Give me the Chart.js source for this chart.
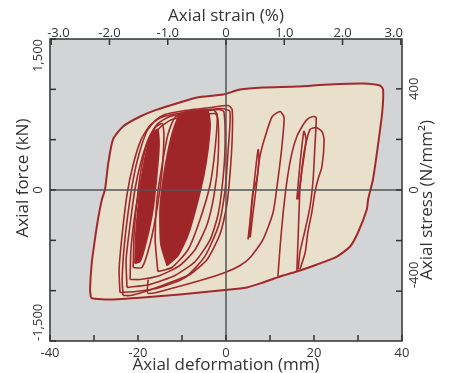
<!DOCTYPE html>
<html>
<head>
<meta charset="utf-8">
<script src="https://cdn.jsdelivr.net/npm/chart.js@4.4.0/dist/chart.umd.min.js"></script>
<style>
  html, body { margin: 0; padding: 0; background: #fff; }
  #wrap { width: 475px; height: 373px; }
</style>
</head>
<body>
<div id="wrap"><canvas id="chart" width="475" height="373"></canvas></div>
<script>
// axial deformation (mm) vs axial force (kN)
const envelope = [[-30.7,-1068],[-30.9,-988],[-30.5,-720],[-29.8,-492],[-29.1,-293],[-28.2,-94],[-27.5,5],[-26.8,253],[-25.7,501],[-23.4,631],[-19.5,730],[-15.7,798],[-10.5,869],[-6.6,919],[-0.7,948],[3.2,998],[8.4,1018],[16.1,1028],[23.6,1048],[31.1,1058],[35.0,1038],[35.7,998],[35.5,770],[34.5,432],[33.4,104],[32.3,-94],[32.0,-194],[30.0,-422],[28.2,-561],[25.2,-661],[20.7,-740],[16.1,-810],[12.3,-859],[8.4,-919],[4.8,-968],[0.9,-988],[-10.5,-1038],[-18.9,-1068],[-26.4,-1088],[-30.2,-1078],[-30.7,-1068]];

const loopL1 = [[-23.4,-1048],[-23.6,-889],[-23.2,-591],[-22.3,-243],[-21.1,104],[-19.8,353],[-18.0,581],[-16.1,690],[-13.9,750],[-9.3,789],[-3.6,819],[0.5,839],[1.4,798],[1.4,501],[0.9,154],[0.2,-144],[-1.4,-442],[-4.3,-690],[-8.2,-839],[-13.9,-938],[-18.4,-1008],[-21.8,-1048],[-23.4,-1048]];
const loopL2 = [[-22.5,-968],[-22.7,-690],[-21.8,-342],[-20.7,5],[-19.3,283],[-17.5,521],[-15.5,660],[-12.7,730],[-7.0,770],[-1.8,799],[-0.5,780],[-0.2,452],[-0.7,104],[-1.8,-243],[-3.6,-492],[-7.0,-710],[-11.6,-849],[-17.3,-938],[-22.5,-968]];
const loopL3 = [[-21.8,-889],[-21.6,-591],[-20.7,-243],[-19.5,55],[-18.2,303],[-16.8,501],[-15.0,621],[-12.3,700],[-5.9,740],[-2.5,760],[-1.8,700],[-1.8,303],[-2.7,-45],[-4.3,-342],[-7.0,-591],[-10.5,-750],[-15.0,-849],[-19.5,-889],[-21.8,-889]];
const loopL4 = [[-15.5,-810],[-16.1,-492],[-15.7,-94],[-14.5,253],[-13.2,551],[-11.6,720],[-8.2,780],[-3.0,799],[-2.0,750],[-2.5,402],[-3.6,55],[-5.9,-293],[-8.6,-591],[-12.3,-770],[-15.5,-810]];
const loopL5 = [[-21.1,-770],[-20.9,-442],[-20.2,-94],[-19.3,204],[-18.0,452],[-16.1,621],[-14.5,660],[-14.1,551],[-14.5,204],[-15.7,-194],[-17.3,-541],[-19.1,-770],[-21.1,-770]];
const loopL6 = [[-24.1,-1018],[-24.3,-790],[-23.6,-442],[-22.5,-45],[-21.1,253],[-19.3,501],[-17.3,640],[-14.8,720],[-10.9,760],[-5.0,790],[-0.9,810],[0.9,780],[0.5,402],[-0.2,5],[-1.6,-342],[-4.8,-660],[-9.3,-870],[-15.0,-968],[-20.5,-1008],[-24.1,-1018]];
const denseA = [[-20.7,-730],[-20.5,-442],[-19.8,-94],[-18.9,204],[-17.7,452],[-16.6,571],[-15.5,601],[-15.2,452],[-15.7,154],[-16.6,-194],[-18.0,-492],[-19.5,-710],[-20.7,-730]];
const denseB = [[-13.4,-750],[-14.8,-541],[-15.0,-194],[-14.3,104],[-13.2,382],[-11.8,621],[-10.2,760],[-7.0,789],[-4.1,780],[-3.6,650],[-4.1,402],[-5.0,154],[-6.6,-144],[-8.6,-442],[-10.9,-651],[-13.4,-750]];
const loopM1 = [[-17.7,-889],[-17.7,-1028],[-11.6,-968],[-5.9,-899],[-0.2,-819],[3.2,-750],[5.5,-670],[8.4,-492],[10.7,-223],[11.8,104],[12.7,432],[13.2,720],[12.3,780],[10.5,730],[8.9,531],[7.7,333],[7.0,104],[6.1,-25],[5.5,-293],[5.0,-492]];
const spikeM = [[5.2,-472],[5.9,-144],[6.6,154],[7.3,402],[7.5,303],[6.8,5],[6.1,-243],[5.5,-472]];
const loopR1 = [[11.8,-859],[12.3,-561],[13.0,-223],[13.9,104],[15.0,372],[16.1,531],[17.3,631],[18.4,700],[19.8,730],[20.5,720],[20.2,432],[19.8,104],[19.1,-164],[18.0,-392],[16.8,-621],[16.4,-790]];
const loopR2 = [[16.1,-810],[16.4,-462],[16.8,5],[17.3,233],[18.0,432],[19.1,601],[20.5,621],[21.8,581],[22.3,501],[21.8,233],[20.9,104],[20.2,-25],[19.5,-223],[18.6,-422],[18.0,-621],[16.8,-790]];
const spikeR = [[16.1,-94],[16.8,253],[17.7,581],[18.2,501],[17.3,204],[16.4,-94]];

// axes
const deformTicks = [-40, -30, -20, -10, 0, 10, 20, 30, 40];
const deformLabels = [-40, -20, 0, 20, 40];
const strainTicks = [-3, -2, -1, 0, 1, 2, 3];
const strainLabels = ["-3.0", "-2.0", "-1.0", "0", "1.0", "2.0", "3.0"];
const strainLimit = 3.02;
const forceTicks = [-1500, -1000, -500, 0, 500, 1000, 1500];
const forceLabels = [1500, 0, -1500];
const stressTicks = [-400, -200, 0, 200, 400];
const stressLabels = [400, 0, -400];
const stressLimit = 597;

const RED = "#a3282b";
const FONT = "'Open Sans', 'Noto Sans', sans-serif";

const pts = arr => arr.map(p => ({ x: p[0], y: p[1] }));

function loopSet(arr, extra) {
  return Object.assign({
    data: pts(arr),
    showLine: true,
    borderColor: RED,
    borderWidth: 1.6,
    pointRadius: 0,
    fill: false,
    tension: 0.2,
    order: 2
  }, extra || {});
}

const datasets = [
  { data: [{ x: 0, y: -1500 }, { x: 0, y: 1500 }], showLine: true, borderColor: "#555", borderWidth: 1.5, pointRadius: 0, order: 0 },
  { data: [{ x: -40, y: 0 }, { x: 40, y: 0 }], showLine: true, borderColor: "#555", borderWidth: 1.5, pointRadius: 0, order: 0 },
  loopSet(denseA, { fill: "shape", backgroundColor: "#9e2629", order: 1 }),
  loopSet(denseB, { fill: "shape", backgroundColor: "#9e2629", order: 1 }),
  loopSet(loopL1), loopSet(loopL2), loopSet(loopL3), loopSet(loopL4), loopSet(loopL5), loopSet(loopL6),
  loopSet(loopM1), loopSet(spikeM),
  loopSet(loopR1), loopSet(loopR2), loopSet(spikeR),
  loopSet(envelope, { fill: "shape", backgroundColor: "#e8e0cb", borderWidth: 2, order: 3 })
];

const deco = {
  id: "deco",
  beforeDraw(chart) {
    const { ctx, chartArea: a } = chart;
    ctx.save();
    ctx.fillStyle = "#d2d4d6";
    ctx.fillRect(a.left, a.top, a.right - a.left, a.bottom - a.top);
    ctx.restore();
  },
  afterDatasetsDraw(chart) {
    const { ctx, chartArea: a, scales } = chart;
    const sx = scales.x, st = scales.xTop, sy = scales.y, sr = scales.yRight;
    ctx.save();
    ctx.strokeStyle = "#333";
    ctx.lineWidth = 1.5;
    ctx.strokeRect(a.left, a.top, a.right - a.left, a.bottom - a.top);

    const line = (x1, y1, x2, y2) => { ctx.beginPath(); ctx.moveTo(x1, y1); ctx.lineTo(x2, y2); ctx.stroke(); };
    const T = 6;
    sx.ticks.forEach(t => { const p = sx.getPixelForValue(t.value); line(p, a.bottom, p, a.bottom - T); });
    st.ticks.forEach(t => { const p = st.getPixelForValue(t.value); line(p, a.top, p, a.top + T); });
    sy.ticks.forEach(t => { const p = sy.getPixelForValue(t.value); line(a.left, p, a.left + T, p); });
    sr.ticks.forEach(t => { const p = sr.getPixelForValue(t.value); line(a.right, p, a.right - T, p); });

    ctx.fillStyle = "#333";
    ctx.font = "13px " + FONT;
    ctx.textBaseline = "alphabetic";
    deformLabels.forEach(v => {
      ctx.textAlign = "center";
      ctx.fillText(String(v), sx.getPixelForValue(v), 357);
    });
    strainTicks.forEach((v, i) => {
      let p = st.getPixelForValue(v);
      ctx.textAlign = "center";
      if (i === 0) { ctx.textAlign = "left"; p -= 4; }
      if (i === strainTicks.length - 1) { ctx.textAlign = "right"; p += 2; }
      ctx.fillText(strainLabels[i], p, 37);
    });

    const vtext = (txt, x, y, align) => {
      ctx.save();
      ctx.translate(x, y);
      ctx.rotate(-Math.PI / 2);
      ctx.textAlign = align;
      ctx.textBaseline = "middle";
      ctx.fillText(txt, 0, 0);
      ctx.restore();
    };
    forceLabels.forEach(v => {
      const p = sy.getPixelForValue(v);
      const txt = v.toLocaleString("en-US");
      vtext(txt, 38, p, v > 0 ? "right" : v < 0 ? "left" : "center");
    });
    stressLabels.forEach(v => {
      const p = sr.getPixelForValue(v);
      if (v < 0) vtext(String(v), 414, p - 3, "left");
      else vtext(String(v), 414, p, "center");
    });

    ctx.font = "17px " + FONT;
    ctx.textAlign = "center";
    ctx.fillText("Axial strain (%)", 226, 21);
    ctx.fillText("Axial deformation (mm)", 226, 370);
    vtext("Axial force (kN)", 23, 178, "center");
    vtext("Axial stress (N/mm\u00b2)", 427, 200, "center");
    ctx.restore();
  }
};

const hidden = { ticks: { display: false }, grid: { display: false }, border: { display: false } };

new Chart(document.getElementById("chart"), {
  type: "scatter",
  data: { datasets },
  options: {
    responsive: false,
    animation: false,
    devicePixelRatio: 1,
    layout: { padding: 0 },
    plugins: { legend: { display: false }, tooltip: { enabled: false } },
    scales: {
      x: Object.assign({ type: "linear", position: "bottom", min: -40, max: 40,
        afterBuildTicks: s => { s.ticks = deformTicks.map(v => ({ value: v })); },
        afterFit: s => { s.height = 32; } }, hidden),
      xTop: Object.assign({ type: "linear", position: "top", min: -strainLimit, max: strainLimit,
        afterBuildTicks: s => { s.ticks = strainTicks.map(v => ({ value: v })); },
        afterFit: s => { s.height = 39; } }, hidden),
      y: Object.assign({ type: "linear", position: "left", min: -1500, max: 1500,
        afterBuildTicks: s => { s.ticks = forceTicks.map(v => ({ value: v })); },
        afterFit: s => { s.width = 50; } }, hidden),
      yRight: Object.assign({ type: "linear", position: "right", min: -stressLimit, max: stressLimit,
        afterBuildTicks: s => { s.ticks = stressTicks.map(v => ({ value: v })); },
        afterFit: s => { s.width = 73; } }, hidden)
    }
  },
  plugins: [deco]
});
</script>
</body>
</html>
